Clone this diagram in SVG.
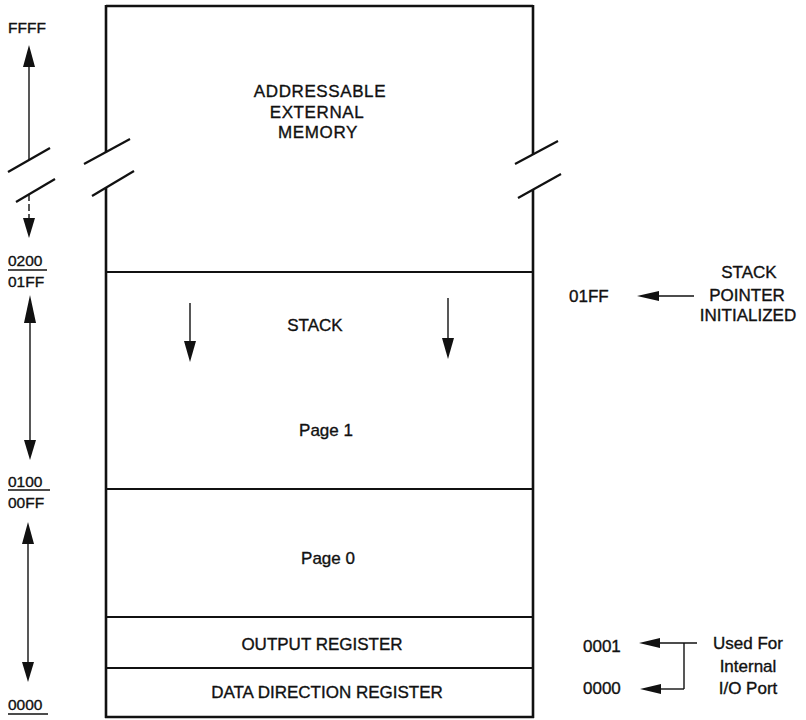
<svg xmlns="http://www.w3.org/2000/svg" width="806" height="720" viewBox="0 0 806 720">
<style>
text{font-family:"Liberation Sans",Arial,sans-serif;fill:#111;stroke:#111;stroke-width:0.35}
.lbl{font-size:15.5px}
.in{font-size:17px;text-anchor:middle}
.rt{font-size:17px}
.box{fill:none;stroke:#111;stroke-width:2.6}
.div{stroke:#111;stroke-width:2.2}
.ln{stroke:#111;stroke-width:1.4;fill:none}
.sl{stroke:#111;stroke-width:2.2}
.ah{fill:#111}
</style>
<rect width="806" height="720" fill="#fff"/>
<g id="memory-map">
<g id="outline">
<line class="box" x1="106" y1="6" x2="533" y2="6"/>
<line class="box" x1="106" y1="5" x2="106" y2="152"/>
<line class="box" x1="106" y1="188" x2="106" y2="718"/>
<line class="box" x1="533" y1="5" x2="533" y2="155"/>
<line class="box" x1="533" y1="190" x2="533" y2="718"/>
<line class="box" x1="105" y1="717" x2="534" y2="717"/>
<line class="sl" x1="84" y1="164" x2="130" y2="139"/>
<line class="sl" x1="92" y1="196" x2="134" y2="171"/>
<line class="sl" x1="515" y1="164" x2="558" y2="141"/>
<line class="sl" x1="518" y1="198" x2="561" y2="174"/>
</g>
<g id="external-memory">
<text class="in" x="320" y="97" letter-spacing="0.6">ADDRESSABLE</text>
<text class="in" x="317" y="118" letter-spacing="0.6">EXTERNAL</text>
<text class="in" x="318" y="138" letter-spacing="0.6">MEMORY</text>
</g>
<g id="stack-page1">
<line class="div" x1="106" y1="272" x2="533" y2="272"/>
<text class="in" x="315" y="331" font-size="18">STACK</text>
<text class="in" x="326" y="436">Page 1</text>
</g>
<g id="page0">
<line class="div" x1="106" y1="489" x2="533" y2="489"/>
<text class="in" x="328" y="564">Page 0</text>
</g>
<g id="output-register">
<line class="div" x1="106" y1="617" x2="533" y2="617"/>
<text class="in" x="322" y="650" font-size="17.5">OUTPUT REGISTER</text>
</g>
<g id="ddr">
<line class="div" x1="106" y1="668" x2="533" y2="668"/>
<text class="in" x="327" y="698" font-size="17.5">DATA DIRECTION REGISTER</text>
</g>
</g>
<g id="address-labels">
<text class="lbl" x="8" y="33">FFFF</text>
<text class="lbl" x="8" y="266">0200</text>
<line class="ln" x1="8" y1="270" x2="47" y2="270"/>
<text class="lbl" x="8" y="287">01FF</text>
<text class="lbl" x="8" y="487">0100</text>
<line class="ln" x1="8" y1="490" x2="50" y2="490"/>
<text class="lbl" x="8" y="508">00FF</text>
<text class="lbl" x="8" y="710">0000</text>
<line class="ln" x1="8" y1="714" x2="48" y2="714"/>
<text class="rt" x="569" y="302">01FF</text>
<text class="rt" x="583" y="652">0001</text>
<text class="rt" x="583" y="694">0000</text>
</g>
<g id="stack-pointer-note">
<text class="rt" x="749" y="278" text-anchor="middle">STACK</text>
<text class="rt" x="747" y="301" text-anchor="middle">POINTER</text>
<text class="rt" x="748" y="321" text-anchor="middle">INITIALIZED</text>
</g>
<g id="io-port-note">
<text class="rt" x="748" y="649" text-anchor="middle">Used For</text>
<text class="rt" x="748" y="672" text-anchor="middle">Internal</text>
<text class="rt" x="748" y="694" text-anchor="middle">I/O Port</text>
</g>
<g id="connectors">
<line class="ln" x1="29" y1="60" x2="29" y2="160"/>
<polygon class="ah" points="29,45 35,67 23,67"/>
<line class="sl" x1="8" y1="172" x2="50" y2="148" stroke-width="1.6"/>
<line class="sl" x1="16" y1="202" x2="55" y2="179" stroke-width="1.6"/>
<line class="ln" x1="29" y1="194" x2="29" y2="222" stroke-dasharray="7,3"/>
<polygon class="ah" points="29,238 35,218 23,218"/>
<line class="ln" x1="30" y1="310" x2="30" y2="445"/>
<polygon class="ah" points="30,295 36,323 24,323"/>
<polygon class="ah" points="30,460 36,440 24,440"/>
<line class="ln" x1="28" y1="535" x2="28" y2="668"/>
<polygon class="ah" points="28,522 34,544 22,544"/>
<polygon class="ah" points="28,682 34,662 22,662"/>
<line class="ln" x1="190" y1="303" x2="190" y2="345" stroke-width="2"/>
<polygon class="ah" points="190,362 196,341 184,341"/>
<line class="ln" x1="448" y1="298" x2="448" y2="342" stroke-width="2"/>
<polygon class="ah" points="448,359 454,338 442,338"/>
<line class="ln" x1="650" y1="296" x2="694" y2="296"/>
<polygon class="ah" points="637,296 659,291 659,301"/>
<line class="ln" x1="652" y1="643" x2="697" y2="643"/>
<polygon class="ah" points="639,643 660,638 660,648"/>
<line class="ln" x1="684" y1="643" x2="684" y2="689"/>
<line class="ln" x1="652" y1="689" x2="684" y2="689"/>
<polygon class="ah" points="640,689 661,684 661,694"/>
</g>
</svg>
